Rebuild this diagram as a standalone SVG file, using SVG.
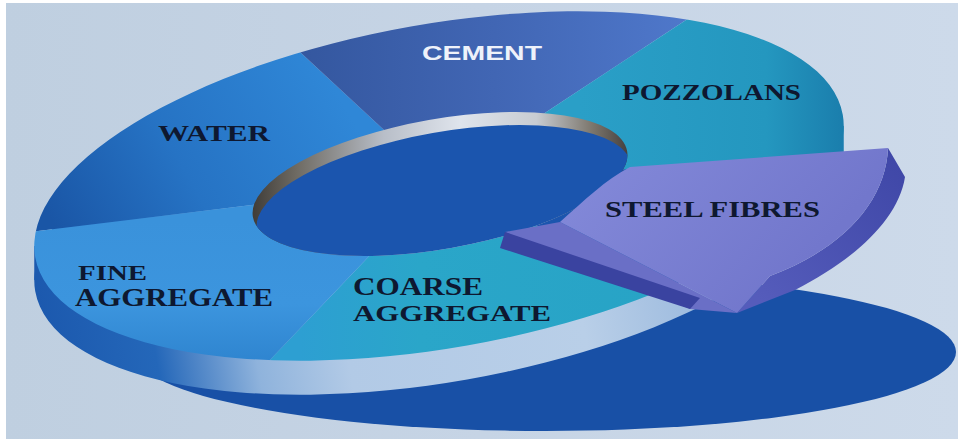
<svg xmlns="http://www.w3.org/2000/svg" width="958" height="439" viewBox="0 0 958 439">
<defs>
  <style>
    .lbl { font-family: "Liberation Serif", "Times New Roman", serif; font-weight: bold; fill: #0e1830; }
    .cem { font-family: "Liberation Sans", Arial, sans-serif; font-weight: bold; fill: #eef2fa; }
  </style>
  <linearGradient id="bgGrad" x1="0" y1="0" x2="1" y2="0">
    <stop offset="0" stop-color="#bfcfe0"/>
    <stop offset="0.5" stop-color="#c6d4e5"/>
    <stop offset="1" stop-color="#cddaea"/>
  </linearGradient>
  <linearGradient id="sideGrad" gradientUnits="userSpaceOnUse" x1="30" y1="0" x2="850" y2="0">
    <stop offset="0" stop-color="#1c59ae"/>
    <stop offset="0.13" stop-color="#2467b9"/>
    <stop offset="0.25" stop-color="#8fb3dc"/>
    <stop offset="0.36" stop-color="#b2cae6"/>
    <stop offset="0.65" stop-color="#b9cfe8"/>
    <stop offset="0.8" stop-color="#9cbade"/>
    <stop offset="0.88" stop-color="#2a70c0"/>
    <stop offset="1" stop-color="#1a7fae"/>
  </linearGradient>
  <linearGradient id="waterGrad" gradientUnits="userSpaceOnUse" x1="330" y1="80" x2="60" y2="235">
    <stop offset="0" stop-color="#2f87d7"/>
    <stop offset="0.55" stop-color="#2673c4"/>
    <stop offset="1" stop-color="#1a56a6"/>
  </linearGradient>
  <linearGradient id="cementGrad" gradientUnits="userSpaceOnUse" x1="300" y1="0" x2="690" y2="0">
    <stop offset="0" stop-color="#34579f"/>
    <stop offset="0.5" stop-color="#4166b4"/>
    <stop offset="1" stop-color="#4f78cb"/>
  </linearGradient>
  <linearGradient id="pozzGrad" gradientUnits="userSpaceOnUse" x1="580" y1="0" x2="846" y2="0">
    <stop offset="0" stop-color="#2a9fc7"/>
    <stop offset="0.7" stop-color="#2497bf"/>
    <stop offset="1" stop-color="#1a7dac"/>
  </linearGradient>
  <linearGradient id="coarseGrad" gradientUnits="userSpaceOnUse" x1="300" y1="0" x2="700" y2="0">
    <stop offset="0" stop-color="#2d9fd2"/>
    <stop offset="0.3" stop-color="#2aa6c9"/>
    <stop offset="1" stop-color="#27a3c5"/>
  </linearGradient>
  <linearGradient id="fineGrad" gradientUnits="userSpaceOnUse" x1="0" y1="220" x2="0" y2="360">
    <stop offset="0" stop-color="#3a92db"/>
    <stop offset="0.6" stop-color="#3c95de"/>
    <stop offset="1" stop-color="#2f85d0"/>
  </linearGradient>
  <linearGradient id="rimGrad" gradientUnits="userSpaceOnUse" x1="250" y1="0" x2="632" y2="0">
    <stop offset="0" stop-color="#3d3a36"/>
    <stop offset="0.12" stop-color="#6e6a62"/>
    <stop offset="0.35" stop-color="#b8bec8"/>
    <stop offset="0.55" stop-color="#dfe4ec"/>
    <stop offset="0.75" stop-color="#c8ccd2"/>
    <stop offset="0.9" stop-color="#7a746a"/>
    <stop offset="1" stop-color="#3e3a3a"/>
  </linearGradient>
  <linearGradient id="wedgeTop" gradientUnits="userSpaceOnUse" x1="600" y1="160" x2="760" y2="310">
    <stop offset="0" stop-color="#8288d8"/>
    <stop offset="1" stop-color="#7277cc"/>
  </linearGradient>
  <linearGradient id="wedgeSide" gradientUnits="userSpaceOnUse" x1="905" y1="160" x2="760" y2="300">
    <stop offset="0" stop-color="#3f47a7"/>
    <stop offset="1" stop-color="#555cbb"/>
  </linearGradient>
  <clipPath id="outerClip">
    <ellipse cx="439" cy="186" rx="410" ry="162" transform="rotate(-10 439 186)"/>
  </clipPath>
  <clipPath id="holeClip">
    <ellipse cx="440" cy="184" rx="190" ry="65" transform="rotate(-10 440 184)"/>
  </clipPath>
</defs>

<rect x="0" y="0" width="958" height="439" fill="#ffffff"/>
<rect x="6" y="3" width="952" height="436" fill="url(#bgGrad)"/>

<g id="base">
  <ellipse cx="545" cy="352" rx="411" ry="79" fill="#1850a6"/>
</g>

<g id="ring-side">
  <ellipse cx="439" cy="220" rx="410" ry="162" transform="rotate(-10 439 220)" fill="url(#sideGrad)"/>
  <polygon points="34.25,246 843.75,126 843.75,160 34.25,280" fill="url(#sideGrad)"/>
</g>

<g id="slot">
  <polygon points="440,182 1820,86 1820,536 1220,536" fill="#1b55ae" clip-path="url(#outerClip)"/>
</g>

<g id="water">
  <polygon points="440,182 -790,332 -790,-208 20,-208" fill="url(#waterGrad)" clip-path="url(#outerClip)"/>
  <text class="lbl" x="158" y="141" font-size="24" textLength="112" lengthAdjust="spacingAndGlyphs">WATER</text>
</g>

<g id="cement">
  <polygon points="440,182 20,-208 20,-304 1178,-304" fill="url(#cementGrad)" clip-path="url(#outerClip)"/>
  <text class="cem" x="422" y="60" font-size="21" textLength="120" lengthAdjust="spacingAndGlyphs">CEMENT</text>
</g>

<g id="pozzolans">
  <polygon points="440,182 1178,-304 1820,-304 1820,86" fill="url(#pozzGrad)" clip-path="url(#outerClip)"/>
  <text class="lbl" x="622" y="100" font-size="23" textLength="179" lengthAdjust="spacingAndGlyphs">POZZOLANS</text>
</g>

<g id="coarse-aggregate">
  <polygon points="440,182 1220,536 1220,725 -79,725" fill="url(#coarseGrad)" clip-path="url(#outerClip)"/>
  <text class="lbl" x="353" y="295" font-size="25" textLength="130" lengthAdjust="spacingAndGlyphs">COARSE</text>
  <text class="lbl" x="353" y="321" font-size="24" textLength="198" lengthAdjust="spacingAndGlyphs">AGGREGATE</text>
</g>

<g id="fine-aggregate">
  <polygon points="440,182 -79,725 -790,725 -790,332" fill="url(#fineGrad)" clip-path="url(#outerClip)"/>
  <text class="lbl" x="78" y="280" font-size="22" textLength="69" lengthAdjust="spacingAndGlyphs">FINE</text>
  <text class="lbl" x="75" y="306" font-size="26" textLength="198" lengthAdjust="spacingAndGlyphs">AGGREGATE</text>
</g>

<g id="hole" clip-path="url(#holeClip)">
  <rect x="240" y="100" width="400" height="180" fill="url(#rimGrad)"/>
  <ellipse cx="444" cy="197" rx="190" ry="65" transform="rotate(-10 444 197)" fill="#1b55ae"/>
</g>

<g id="steel-fibres">
  <path d="M560,222 L737,313 L690,309 L505,232 Z" fill="#6a6fc6"/>
  <path d="M505,232 L700,298 L690,309 L500,248 Z" fill="#3a43a0"/>
  <path d="M888,148 L905,177 C898,222 850,262 795,290 L737,313 L770,276 C845,248 886,200 888,148 Z" fill="url(#wedgeSide)"/>
  <path d="M630,167 L888,148 C886,200 845,248 770,276 L737,313 L560,222 C585,200 605,180 630,167 Z" fill="url(#wedgeTop)"/>
  <text class="lbl" x="605" y="217" font-size="23" textLength="215" lengthAdjust="spacingAndGlyphs">STEEL FIBRES</text>
</g>

<g id="connectors"/>
</svg>
